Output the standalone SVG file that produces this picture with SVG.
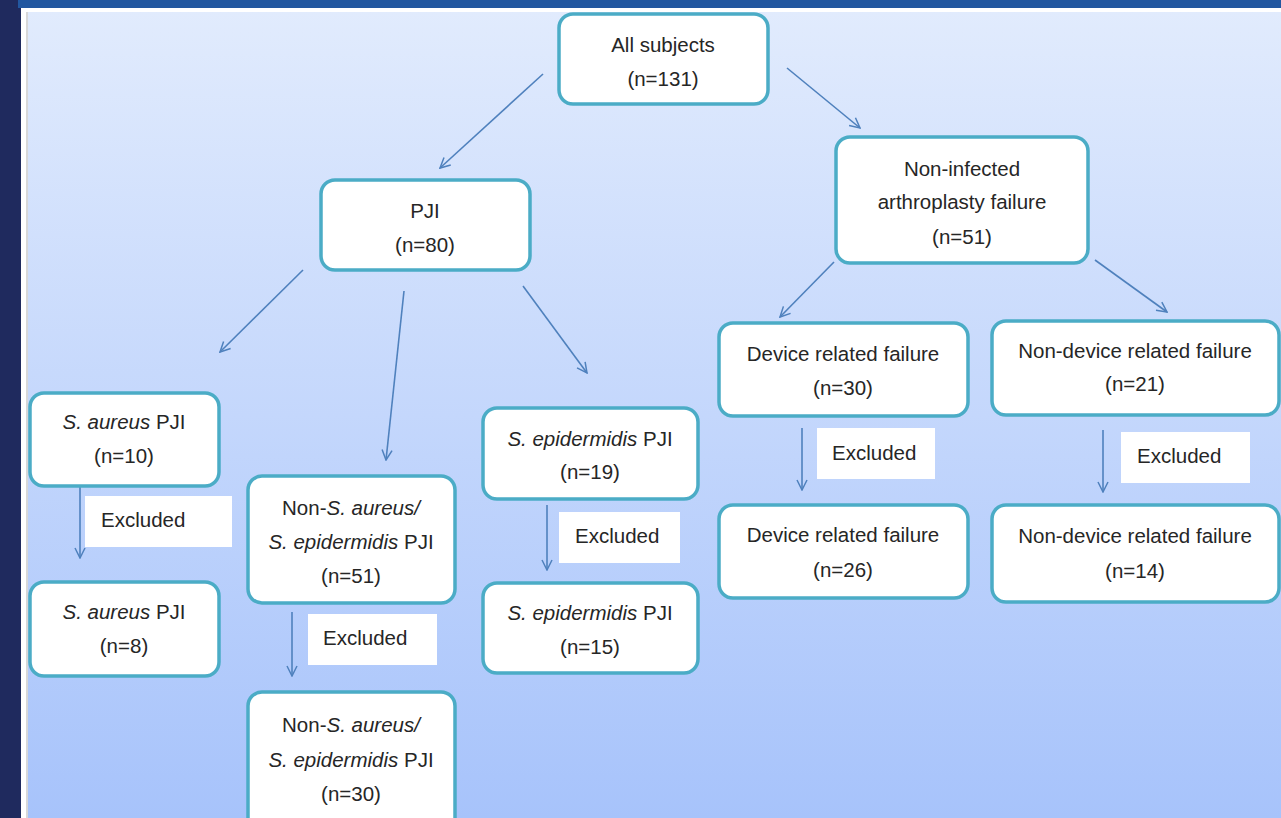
<svg xmlns="http://www.w3.org/2000/svg" width="1281" height="818" viewBox="0 0 1281 818">
<defs>
<linearGradient id="bg" x1="0" y1="0" x2="0" y2="1">
<stop offset="0" stop-color="#e1ebfd"/>
<stop offset="1" stop-color="#a7c3fb"/>
</linearGradient>
<marker id="ah" viewBox="0 0 12 12" refX="11" refY="6" markerWidth="12" markerHeight="12" markerUnits="userSpaceOnUse" orient="auto">
<path d="M1,1 L11,6 L1,11" fill="none" stroke="#4f81bd" stroke-width="1.5"/>
</marker>
</defs>
<style>
.box{fill:#fff;stroke:#4bacc6;stroke-width:3.5}
.ex{fill:#fff}
text{font-family:"Liberation Sans",Arial,sans-serif;font-size:20.5px;fill:#262626;text-anchor:middle}
.l{text-anchor:start}
.c line{stroke:#4f81bd;stroke-width:1.6;marker-end:url(#ah)}
</style>
<rect x="0" y="0" width="1281" height="818" fill="#ffffff"/>
<rect x="0" y="0" width="21" height="818" fill="#1f2a5e"/>
<rect x="18" y="0" width="1263" height="8" fill="#2257a0"/>
<rect x="28" y="12" width="1253" height="806" fill="url(#bg)"/>
<rect x="26" y="12" width="2" height="806" fill="#d8d8d8"/>

<g class="c" id="connectors">
<line x1="543" y1="74" x2="440" y2="168"/>
<line x1="787" y1="68" x2="860" y2="128"/>
<line x1="303" y1="270" x2="220" y2="352"/>
<line x1="404" y1="291" x2="386" y2="460"/>
<line x1="523" y1="286" x2="587" y2="373"/>
<line x1="834" y1="262" x2="780" y2="317"/>
<line x1="1095" y1="260" x2="1167" y2="312"/>
<line x1="80" y1="487" x2="80" y2="558"/>
<line x1="292" y1="612" x2="292" y2="676"/>
<line x1="547" y1="505" x2="547" y2="570"/>
<line x1="802" y1="428" x2="802" y2="490"/>
<line x1="1103" y1="430" x2="1103" y2="492"/>
</g>

<g id="all"><rect class="box" x="559" y="14" width="209" height="90" rx="14"/>
<text x="663" y="52">All subjects</text><text x="663" y="86">(n=131)</text></g>

<g id="pji"><rect class="box" x="321" y="180" width="209" height="90" rx="14"/>
<text x="425" y="218">PJI</text><text x="425" y="252">(n=80)</text></g>

<g id="noninf"><rect class="box" x="836" y="137" width="252" height="126" rx="14"/>
<text x="962" y="176">Non-infected</text><text x="962" y="209">arthroplasty failure</text><text x="962" y="244">(n=51)</text></g>

<g id="sa10"><rect class="box" x="30" y="393" width="189" height="93" rx="14"/>
<text x="124" y="429"><tspan font-style="italic">S. aureus</tspan> PJI</text><text x="124" y="463">(n=10)</text></g>

<g id="ns51"><rect class="box" x="248" y="476" width="207" height="127" rx="14"/>
<text x="351" y="515">Non-<tspan font-style="italic">S. aureus/</tspan></text><text x="351" y="549"><tspan font-style="italic">S. epidermidis</tspan> PJI</text><text x="351" y="583">(n=51)</text></g>

<g id="se19"><rect class="box" x="483" y="408" width="215" height="91" rx="14"/>
<text x="590" y="446"><tspan font-style="italic">S. epidermidis</tspan> PJI</text><text x="590" y="479">(n=19)</text></g>

<g id="dev30"><rect class="box" x="719" y="323" width="249" height="93" rx="14"/>
<text x="843" y="361">Device related failure</text><text x="843" y="395">(n=30)</text></g>

<g id="nd21"><rect class="box" x="992" y="321" width="287" height="94" rx="14"/>
<text x="1135" y="358">Non-device related failure</text><text x="1135" y="391">(n=21)</text></g>

<g id="sa8"><rect class="box" x="30" y="582" width="189" height="94" rx="14"/>
<text x="124" y="619"><tspan font-style="italic">S. aureus</tspan> PJI</text><text x="124" y="653">(n=8)</text></g>

<g id="ns30"><rect class="box" x="248" y="692" width="207" height="140" rx="14"/>
<text x="351" y="732">Non-<tspan font-style="italic">S. aureus/</tspan></text><text x="351" y="767"><tspan font-style="italic">S. epidermidis</tspan> PJI</text><text x="351" y="801">(n=30)</text></g>

<g id="se15"><rect class="box" x="483" y="583" width="215" height="90" rx="14"/>
<text x="590" y="620"><tspan font-style="italic">S. epidermidis</tspan> PJI</text><text x="590" y="654">(n=15)</text></g>

<g id="dev26"><rect class="box" x="719" y="505" width="249" height="93" rx="14"/>
<text x="843" y="542">Device related failure</text><text x="843" y="577">(n=26)</text></g>

<g id="nd14"><rect class="box" x="992" y="505" width="287" height="97" rx="14"/>
<text x="1135" y="543">Non-device related failure</text><text x="1135" y="578">(n=14)</text></g>

<g id="ex1"><rect class="ex" x="85" y="496" width="147" height="51"/><text class="l" x="101" y="527">Excluded</text></g>
<g id="ex2"><rect class="ex" x="308" y="614" width="129" height="51"/><text class="l" x="323" y="645">Excluded</text></g>
<g id="ex3"><rect class="ex" x="559" y="512" width="121" height="51"/><text class="l" x="575" y="543">Excluded</text></g>
<g id="ex4"><rect class="ex" x="817" y="428" width="118" height="51"/><text class="l" x="832" y="460">Excluded</text></g>
<g id="ex5"><rect class="ex" x="1121" y="432" width="129" height="51"/><text class="l" x="1137" y="463">Excluded</text></g>
</svg>
